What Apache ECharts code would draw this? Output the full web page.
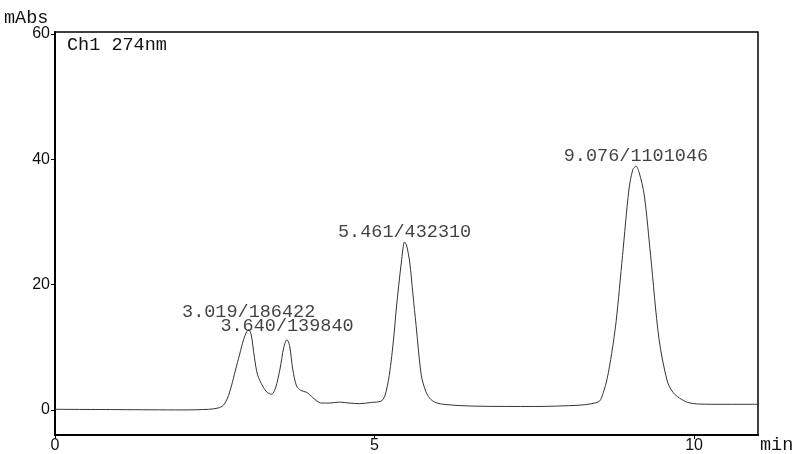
<!DOCTYPE html>
<html>
<head>
<meta charset="utf-8">
<script src="https://cdn.jsdelivr.net/npm/echarts@6/dist/echarts.min.js"></script>
<style>
  html, body { margin: 0; padding: 0; background: #fff; }
  #chart { width: 794px; height: 454px; }
</style>
</head>
<body>
<div id="chart"></div>
<script>
// retention time (min) and absorbance (mAbs)
const times = [
  0.0, 1.0, 2.0, 2.4, 2.55, 2.63, 2.7, 2.76, 2.82, 2.89, 2.95, 3.0, 3.03, 3.07,
  3.12, 3.17, 3.25, 3.32, 3.39, 3.45, 3.52, 3.58, 3.63, 3.67, 3.72, 3.78, 3.85,
  3.94, 4.03, 4.1, 4.17, 4.3, 4.45, 4.6, 4.77, 4.95, 5.1, 5.16, 5.23, 5.3, 5.34,
  5.42, 5.47, 5.5, 5.55, 5.6, 5.65, 5.73, 5.8, 5.86, 5.95, 6.12, 6.59, 7.5, 8.2,
  8.4, 8.52, 8.58, 8.64, 8.71, 8.78, 8.88, 8.98, 9.04, 9.09, 9.14, 9.22, 9.32,
  9.45, 9.58, 9.67, 9.77, 9.9, 10.05, 10.5, 11.0
];
const absorbance = [
  0.1, 0.05, 0.0, 0.1, 0.3, 0.7, 1.9, 3.8, 6.2, 8.9, 11.2, 12.5, 12.8, 12.0,
  8.4, 5.6, 3.8, 2.8, 2.5, 3.5, 6.5, 10.0, 11.2, 10.3, 6.5, 3.8, 3.1,
  2.8, 2.0, 1.4, 1.1, 1.1, 1.25, 1.1, 1.0, 1.2, 1.4, 2.2, 5.5, 11.5, 16.1,
  23.6, 26.8, 26.3, 23.6, 18.5, 13.5, 5.6, 3.0, 1.9, 1.2, 0.85, 0.6, 0.55, 0.75,
  1.0, 1.4, 2.8, 5.0, 9.0, 14.1, 24.6, 35.1, 38.3, 38.9, 37.9, 34.3, 24.6,
  11.4, 4.6, 2.8, 1.9, 1.2, 0.95, 0.9, 0.9
];

// peak apexes and their annotations
const peakTimes = [3.03, 3.63, 5.47, 9.09];
const peakHeights = [12.8, 11.2, 26.8, 38.9];
const peakLabels = ["3.019/186422", "3.640/139840", "5.461/432310", "9.076/1101046"];
const peakOffsets = [8, 4, 0, 1];

const yTicks = [0, 20, 40, 60];
const xTicks = [0, 5, 10];

const mono = "Liberation Mono";
const sans = "Liberation Sans";

const chart = echarts.init(document.getElementById("chart"));

chart.setOption({
  animation: false,
  grid: { left: 55, right: 36, top: 32, bottom: 16, show: true, borderColor: "#000", borderWidth: 1.5 },
  xAxis: {
    type: "value",
    min: 0,
    max: 11,
    axisLine: { show: true, onZero: false, lineStyle: { color: "#000", width: 2 } },
    axisTick: { show: true, length: 4, customValues: xTicks, lineStyle: { color: "#000" } },
    axisLabel: { customValues: xTicks, color: "#111", fontFamily: sans, fontSize: 16, margin: 3 },
    splitLine: { show: false }
  },
  yAxis: {
    type: "value",
    min: -4,
    max: 60.3,
    axisLine: { show: true, onZero: false, lineStyle: { color: "#000", width: 2 } },
    axisTick: { show: true, length: 4, customValues: yTicks, lineStyle: { color: "#000" } },
    axisLabel: { customValues: yTicks, color: "#111", fontFamily: sans, fontSize: 16, margin: 5 },
    splitLine: { show: false }
  },
  graphic: [
    { type: "text", left: 4, top: 9, style: { text: "mAbs", font: "18.5px " + mono, fill: "#111" } },
    { type: "text", left: 67, top: 36, style: { text: "Ch1 274nm", font: "18.5px " + mono, fill: "#111" } },
    { type: "text", left: 760, top: 436, style: { text: "min", font: "18.5px " + mono, fill: "#111" } }
  ],
  series: [
    {
      type: "line",
      data: times.map((t, i) => [t, absorbance[i]]),
      smooth: 0.3,
      showSymbol: false,
      lineStyle: { color: "#333", width: 1 },
      silent: true
    },
    {
      type: "scatter",
      data: peakTimes.map((t, i) => ({
        value: [t, peakHeights[i]],
        label: { distance: peakOffsets[i] }
      })),
      symbolSize: 0,
      silent: true,
      label: {
        show: true,
        position: "top",
        formatter: (p) => peakLabels[p.dataIndex],
        fontFamily: mono,
        fontSize: 18.5,
        color: "#111"
      }
    }
  ]
});
</script>
</body>
</html>
